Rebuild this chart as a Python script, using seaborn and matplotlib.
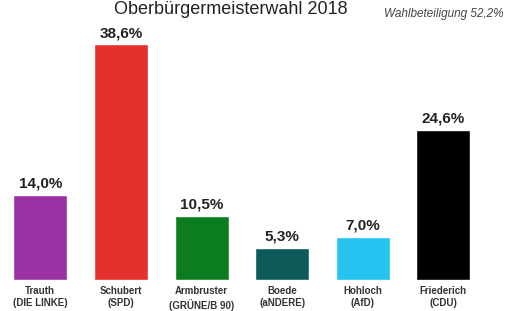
import matplotlib
matplotlib.use("Agg")
import matplotlib.pyplot as plt
import seaborn as sns
import pandas as pd

# Oberbürgermeisterwahl 2018, Ergebnisse in Prozent
candidates = ["Trauth\n(DIE LINKE)", "Schubert\n(SPD)", "Armbruster\n(GRÜNE/B 90)",
              "Boede\n(aNDERE)", "Hohloch\n(AfD)", "Friederich\n(CDU)"]
values = [14.0, 38.6, 10.5, 5.3, 7.0, 24.6]
value_labels = ["14,0%", "38,6%", "10,5%", "5,3%", "7,0%", "24,6%"]
colors = ["#9a32a6", "#e5302e", "#0b7d1f", "#0e5a5a", "#25c3f0", "#000000"]

df = pd.DataFrame({"Kandidat": candidates, "Prozent": values})

sns.set_style("white")
plt.rcParams["font.family"] = ["Liberation Sans", "DejaVu Sans"]

fig = plt.figure(figsize=(5.07, 3.11), dpi=100)
ax = fig.add_axes([0.0, 0.0997, 0.954, 0.836])

sns.barplot(data=df, x="Kandidat", y="Prozent", hue="Kandidat",
            palette=colors, width=0.67, legend=False, ax=ax, saturation=1)

for i, (v, lab) in enumerate(zip(values, value_labels)):
    ax.text(i, v + 0.7, lab, ha="center", va="bottom",
            fontsize=11, fontweight="bold", color="#222222")

ax.set_xlim(-0.5, 5.5)
ax.set_ylim(0, 42.6)
ax.set_xlabel("")
ax.set_ylabel("")
ax.set_yticks([])
ax.tick_params(axis="x", length=0, pad=4)
ax.set_xticks(range(len(candidates)))
ax.set_xticklabels(candidates, fontsize=7, fontweight="bold",
                   color="#333333", linespacing=1.35)
for s in ax.spines.values():
    s.set_visible(False)

fig.text(0.455, 0.997, "Oberbürgermeisterwahl 2018", ha="center",
         va="top", fontsize=13, color="#222222")
fig.text(0.994, 0.945, "Wahlbeteiligung 52,2%", ha="right", va="baseline",
         fontsize=8.5, style="italic", color="#444444")

fig.savefig("out.png", dpi=100)
